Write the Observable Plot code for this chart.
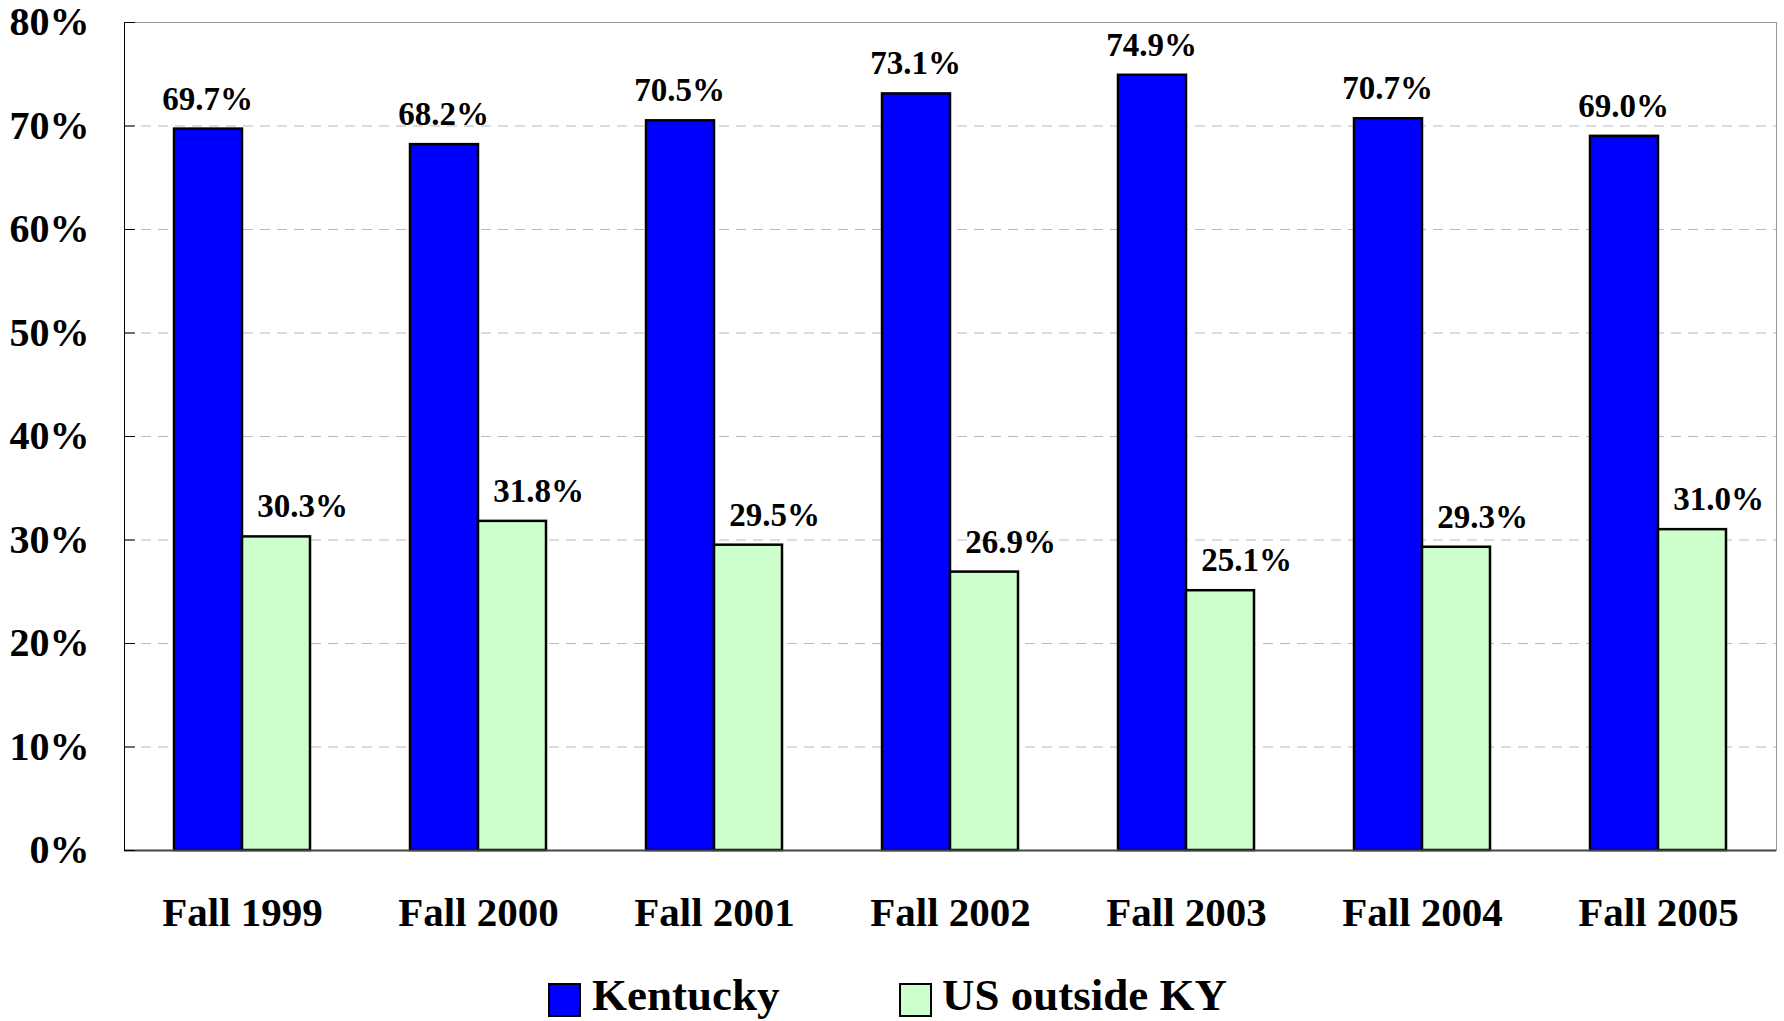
<!DOCTYPE html>
<html><head><meta charset="utf-8">
<script src="https://cdn.jsdelivr.net/npm/d3@7"></script>
<script src="https://cdn.jsdelivr.net/npm/@observablehq/plot@0.6"></script>
<style>
body{margin:0;background:#fff;overflow:hidden;font-family:"Liberation Serif","Times New Roman",serif;font-weight:bold;}
#legend{position:relative;height:61px;width:1784px;overflow:hidden;}
.sw{position:absolute;top:23px;width:29px;height:30px;border:2px solid #000;}
.lt{position:absolute;top:13px;font-size:45px;line-height:1;color:#000;white-space:nowrap;}
</style></head><body>
<div id="chart"></div>
<div id="legend"></div>
<script>
const years = ["Fall 1999","Fall 2000","Fall 2001","Fall 2002","Fall 2003","Fall 2004","Fall 2005"];
const kentucky = [69.7, 68.2, 70.5, 73.1, 74.9, 70.7, 69.0];
const usOutside = [30.3, 31.8, 29.5, 26.9, 25.1, 29.3, 31.0];
const yTicks = [0, 0.1, 0.2, 0.3, 0.4, 0.5, 0.6, 0.7, 0.8];
const series = ["Kentucky", "US outside KY"];
const colors = ["#0000ff", "#ccffcc"];

const data = years.map((year, i) => ({year, ky: kentucky[i] / 100, us: usOutside[i] / 100}));
const fmt = d => (d * 100).toFixed(1) + "%";
const font = '"Liberation Serif","Times New Roman",serif';

const chart = Plot.plot({
  width: 1784, height: 960,
  marginLeft: 124, marginRight: 8, marginTop: 22, marginBottom: 110,
  style: {fontFamily: font, fontWeight: "bold", background: "white", color: "black"},
  x: {domain: years, paddingInner: 0.424, paddingOuter: 0.212, label: null},
  y: {domain: [0, 0.8], label: null},
  marks: [
    Plot.gridY(yTicks.slice(1, -1), {stroke: "#b8b8b8", strokeOpacity: 1, strokeDasharray: "10,7"}),
    Plot.frame({stroke: "#999"}),
    Plot.barY(data, {x: "year", y: "ky", fill: colors[0], stroke: "black", strokeWidth: 2.5, insetRight: 68}),
    Plot.barY(data, {x: "year", y: "us", fill: colors[1], stroke: "black", strokeWidth: 2.5, insetLeft: 68}),
    Plot.ruleY([0], {stroke: "#444", strokeWidth: 2}),
    Plot.frame({anchor: "left", stroke: "black"}),
    Plot.axisY(yTicks, {tickFormat: d => Math.round(d * 100) + "%", fontSize: 40, fontWeight: "bold", tickSize: -11, tickPadding: 46, label: null}),
    Plot.axisX({tickSize: 0, tickPadding: 46, fontSize: 41, fontWeight: "bold", label: null}),
    Plot.text(data, {x: "year", y: "ky", text: d => fmt(d.ky), dx: -35, dy: -30, fontSize: 33, fontWeight: "bold", fill: "black"}),
    Plot.text(data, {x: "year", y: "us", text: d => fmt(d.us), dx: 60, dy: -30, fontSize: 33, fontWeight: "bold", fill: "black"})
  ]
});
document.getElementById("chart").appendChild(chart);

const legend = document.getElementById("legend");
const legendPos = [[548, 592], [899, 942]];
series.forEach((s, i) => {
  const sw = document.createElement("div");
  sw.className = "sw";
  sw.style.left = legendPos[i][0] + "px";
  sw.style.background = colors[i];
  legend.appendChild(sw);
  const t = document.createElement("div");
  t.className = "lt";
  t.style.left = legendPos[i][1] + "px";
  t.textContent = s;
  legend.appendChild(t);
});
</script>
</body></html>
